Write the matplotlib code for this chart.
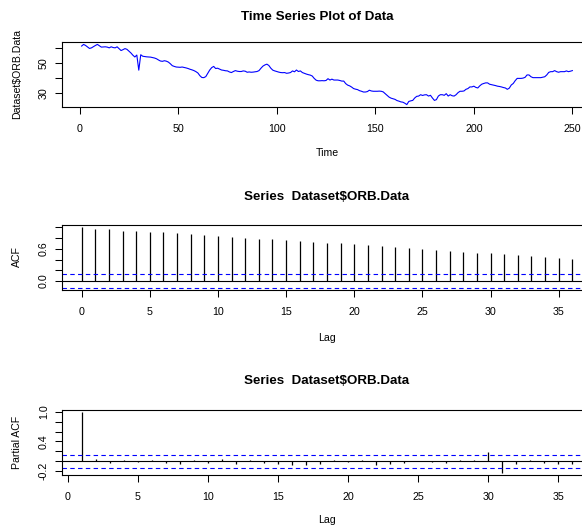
import numpy as np
import matplotlib
matplotlib.use("Agg")
import matplotlib.pyplot as plt

plt.rcParams['font.family'] = ['Liberation Sans', 'DejaVu Sans']

# values
orb = [61.6, 62.7, 62.0, 61.0, 60.0, 60.4, 61.2, 62.0, 62.7, 61.8,
       60.9, 61.0, 61.1, 60.9, 60.4, 61.1, 60.6, 60.4, 61.1, 59.9,
       58.6, 59.2, 59.9, 59.4, 58.2, 57.0, 55.5, 54.3, 55.6, 45.5,
       55.8, 54.8, 54.6, 54.4, 54.3, 54.2, 53.9, 53.6, 53.1, 52.3,
       51.6, 51.4, 51.8, 51.5, 50.9, 49.8, 48.5, 48.0, 47.6, 47.5,
       47.4, 47.6, 47.3, 47.0, 46.6, 46.1, 45.7, 45.2, 44.5, 43.6,
       41.8, 40.6, 40.5, 41.2, 43.4, 45.6, 47.2, 48.0, 46.6, 46.8,
       46.2, 45.6, 45.4, 45.1, 45.0, 44.3, 43.9, 44.6, 45.2, 44.8,
       44.6, 44.6, 45.0, 44.8, 44.1, 44.3, 44.1, 44.2, 44.4, 44.6,
       45.2, 46.8, 48.2, 49.0, 49.5, 48.6, 46.8, 45.5, 45.0, 44.6,
       44.2, 43.9, 43.8, 43.9, 43.4, 43.6, 43.9, 45.0, 44.4, 45.6,
       44.6, 45.0, 43.9, 43.4, 42.9, 42.5, 42.2, 41.6, 40.0, 38.8,
       38.4, 38.4, 38.5, 38.4, 38.6, 39.8, 38.9, 39.5, 38.9, 38.9,
       38.9, 38.6, 38.2, 38.2, 36.5, 35.5, 35.0, 34.2, 33.2, 32.8,
       32.5, 31.8, 31.4, 30.9, 30.9, 31.2, 32.1, 31.6, 31.4, 31.4,
       31.4, 31.5, 31.4, 31.0, 29.8, 28.5, 27.5, 26.8, 26.4, 26.0,
       25.2, 24.8, 24.3, 24.1, 23.4, 22.5, 24.6, 25.0, 25.3, 26.9,
       28.0, 28.2, 29.1, 28.6, 29.0, 29.1, 28.2, 28.7, 26.9, 25.3,
       25.8, 28.2, 29.1, 29.1, 28.7, 29.8, 28.2, 29.1, 28.4, 28.2,
       29.1, 30.5, 31.4, 31.4, 31.6, 32.7, 33.2, 34.3, 34.3, 34.8,
       34.0, 33.6, 35.0, 36.1, 36.6, 37.0, 37.0, 36.1, 35.8, 35.5,
       35.2, 34.8, 34.6, 34.3, 33.9, 33.6, 32.7, 33.5, 35.6, 36.6,
       38.5, 40.0, 40.0, 40.0, 40.2, 40.7, 42.3, 42.3, 41.1, 40.5,
       40.5, 40.5, 40.5, 40.5, 40.8, 41.1, 42.3, 44.0, 44.5, 44.5,
       45.2, 44.5, 44.1, 44.5, 44.5, 44.5, 45.0, 44.5, 44.8, 45.2]
time = np.arange(1, len(orb) + 1)

acf_vals = [1.000, 0.975, 0.963, 0.938, 0.925, 0.907, 0.907, 0.888, 0.870, 0.851,
            0.832, 0.826, 0.807, 0.789, 0.789, 0.770, 0.748, 0.727, 0.708, 0.708,
            0.689, 0.671, 0.652, 0.634, 0.615, 0.596, 0.578, 0.559, 0.540, 0.528,
            0.522, 0.503, 0.484, 0.466, 0.447, 0.429, 0.410]
acf_lags = np.arange(0, len(acf_vals))

pacf_vals = [0.985, 0.04, -0.03, 0.02, -0.02, 0.03, -0.04, -0.06, 0.02, -0.03,
             0.04, -0.05, 0.03, -0.04, -0.06, -0.07, -0.08, -0.05, 0.03, -0.02,
             0.03, -0.08, -0.05, -0.04, 0.01, -0.02, -0.03, 0.03, 0.03, 0.18,
             -0.226, -0.05, 0.03, -0.04, -0.05, -0.05]
pacf_lags = np.arange(1, len(pacf_vals) + 1)

title_ts = "Time Series Plot of Data"
title_cf = "Series  Dataset$ORB.Data"

W, H = 582, 528
clim = 1.96 / np.sqrt(len(orb))


def rlim(lo, hi):
    r = hi - lo
    return lo - 0.04 * r, hi + 0.04 * r


def panel(fig, top, bottom):
    ax = fig.add_axes([62 / W, 1 - bottom / H, 530 / W, (bottom - top) / H])
    for s in ax.spines.values():
        s.set_linewidth(0.8)
    ax.tick_params(direction='out', length=5, width=0.75, labelsize=7.7)
    ax.tick_params(axis='x', pad=7.5)
    ax.tick_params(axis='y', pad=4.5)
    return ax


def ytick_labels(ax, ticks, shown):
    ax.set_yticks(ticks)
    ax.set_yticklabels([t if t in shown else '' for t in
                        ['%g' % v if abs(v) >= 10 else '%.1f' % v for v in ticks]],
                       rotation=90, va='center')


def ftext(x, y, s, **kw):
    fig.text(x / W, 1 - y / H, s, ha='center', va='center', **kw)


fig = plt.figure(figsize=(W / 100, H / 100), dpi=100)

# time series
ax1 = panel(fig, 42, 107)
ax1.plot(time, orb, color='#0000ff', lw=0.8)
ax1.set_xlim(*rlim(time[0], time[-1]))
ax1.set_ylim(*rlim(min(orb), max(orb)))
ax1.set_xticks([0, 50, 100, 150, 200, 250])
ytick_labels(ax1, [30, 40, 50, 60], ['30', '50'])
ftext(317, 17, title_ts, fontsize=9.6, fontweight='bold')
ftext(327, 153, "Time", fontsize=7.6)
ftext(17, 74, "Dataset$ORB.Data", fontsize=7.6, rotation=90)

# acf
ax2 = panel(fig, 225, 290)
ax2.vlines(acf_lags, 0, acf_vals, color='black', lw=0.9)
ax2.axhline(0, color='black', lw=0.8)
ax2.axhline(clim, color='#0000ff', lw=0.8, ls=(0, (4, 3)))
ax2.axhline(-clim, color='#0000ff', lw=0.8, ls=(0, (4, 3)))
ax2.set_xlim(*rlim(acf_lags[0], acf_lags[-1]))
ax2.set_ylim(*rlim(min(-clim, min(acf_vals)), 1))
ax2.set_xticks(np.arange(0, 36, 5))
ytick_labels(ax2, [0.0, 0.2, 0.4, 0.6, 0.8, 1.0], ['0.0', '0.6'])
ftext(327, 197, title_cf, fontsize=9.6, fontweight='bold')
ftext(327, 338, "Lag", fontsize=7.6)
ftext(17, 257, "ACF", fontsize=7.6, rotation=90)

# pacf
ax3 = panel(fig, 410, 475)
ax3.vlines(pacf_lags, 0, pacf_vals, color='black', lw=0.9)
ax3.axhline(0, color='black', lw=0.8)
ax3.axhline(clim, color='#0000ff', lw=0.8, ls=(0, (4, 3)))
ax3.axhline(-clim, color='#0000ff', lw=0.8, ls=(0, (4, 3)))
ax3.set_xlim(*rlim(pacf_lags[0], pacf_lags[-1]))
ax3.set_ylim(*rlim(min(-clim, min(pacf_vals)), max(clim, max(pacf_vals))))
ax3.set_xticks(np.arange(0, 36, 5))
ytick_labels(ax3, [-0.2, 0.0, 0.2, 0.4, 0.6, 0.8, 1.0], ['-0.2', '0.4', '1.0'])
ftext(327, 381, title_cf, fontsize=9.6, fontweight='bold')
ftext(327, 520, "Lag", fontsize=7.6)
ftext(17, 442, "Partial ACF", fontsize=7.6, rotation=90)

fig.savefig("out.png", dpi=100)
plt.close(fig)
